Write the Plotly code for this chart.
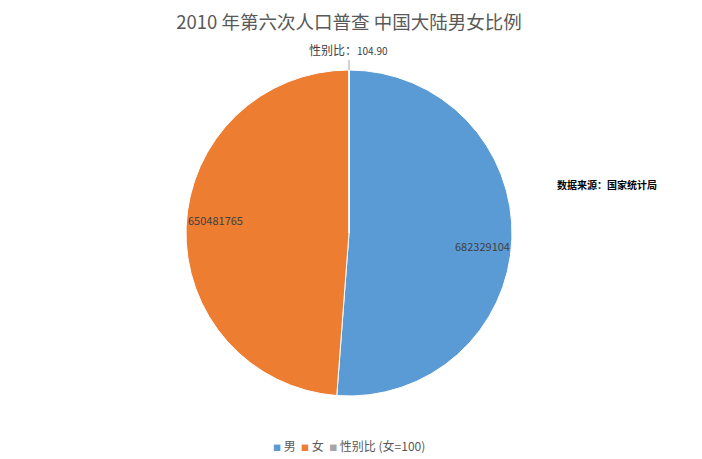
import math
import plotly.graph_objects as go

labels = ["男", "女", "性别比 (女=100)"]
values = [682329104, 650481765, 104.90]
colors = ["#5B9BD5", "#ED7D31", "#A5A5A5"]

FONT = "Noto Sans CJK SC"
W, H = 702, 459
OFF = 8  # page body margin

# pie placement (paper fractions)
CX, CY = (349 - OFF) / W, 1 - (233 - OFF) / H
R_PX = 163
dom_x = [CX - R_PX / W, CX + R_PX / W]
dom_y = [CY - R_PX / H, CY + R_PX / H]

fig = go.Figure(go.Pie(
    labels=labels,
    values=values,
    textinfo="none",
    sort=False,
    direction="clockwise",
    rotation=0,
    marker=dict(colors=colors, line=dict(color="#ffffff", width=1)),
    domain=dict(x=dom_x, y=dom_y),
    hoverinfo="label+value",
    showlegend=False,
))

# data labels near the outer edge of each slice
total = sum(values)
annotations = []
start = 0.0
for lab, val in zip(labels, values):
    frac = val / total
    mid = (start + frac / 2) * 2 * math.pi
    start += frac
    if val < total * 0.01:
        # tiny slice: outside label with leader line
        annotations.append(dict(
            x=CX + R_PX * math.sin(mid) / W, y=CY + R_PX * math.cos(mid) / H,
            xref="paper", yref="paper",
            text="<span style='font-size:12px'>性别比：</span>" + f"{val:.2f}",
            showarrow=True, arrowhead=0, arrowwidth=1, arrowcolor="#A5A5A5",
            ax=0, ay=-10, xanchor="center", yanchor="bottom",
            font=dict(family=FONT, size=10, color="#404040"),
        ))
        continue
    r = 0.82 * R_PX
    dy = -8 * math.copysign(1, math.sin(mid))  # Excel nudges labels off the diameter
    annotations.append(dict(
        x=CX + r * math.sin(mid) / W, y=CY + (r * math.cos(mid) + dy) / H,
        xref="paper", yref="paper", showarrow=False,
        xanchor="center", yanchor="middle",
        text=f"{val:.0f}",
        font=dict(family=FONT, size=11, color="#404040"),
    ))

annotations.append(dict(
    text="<b>数据来源：国家统计局</b>",
    x=(607 - OFF) / W, y=1 - (185 - OFF) / H, xref="paper", yref="paper",
    showarrow=False, xanchor="center", yanchor="middle",
    font=dict(family=FONT, size=10, color="#000000"),
))

# compact legend like the Excel one
legend_html = "&nbsp;&nbsp;".join(
    f"<span style='color:{c};font-size:8px'>■</span>&nbsp;{lab}"
    for lab, c in zip(labels, colors)
)
annotations.append(dict(
    text=legend_html,
    x=(349 - OFF) / W, y=1 - (445 - OFF) / H, xref="paper", yref="paper",
    showarrow=False, xanchor="center", yanchor="middle",
    font=dict(family=FONT, size=12, color="#595959"),
))

fig.update_layout(
    width=W,
    height=H,
    paper_bgcolor="white",
    plot_bgcolor="white",
    margin=dict(l=0, r=0, t=0, b=0),
    showlegend=False,
    title=dict(
        text="2010 年第六次人口普查 中国大陆男女比例",
        x=(349 - OFF) / W, xanchor="center", y=1 - 15 / H, yanchor="middle",
        font=dict(family=FONT, size=18.5, color="#595959"),
    ),
    annotations=annotations,
)

fig.write_html("out.html")
